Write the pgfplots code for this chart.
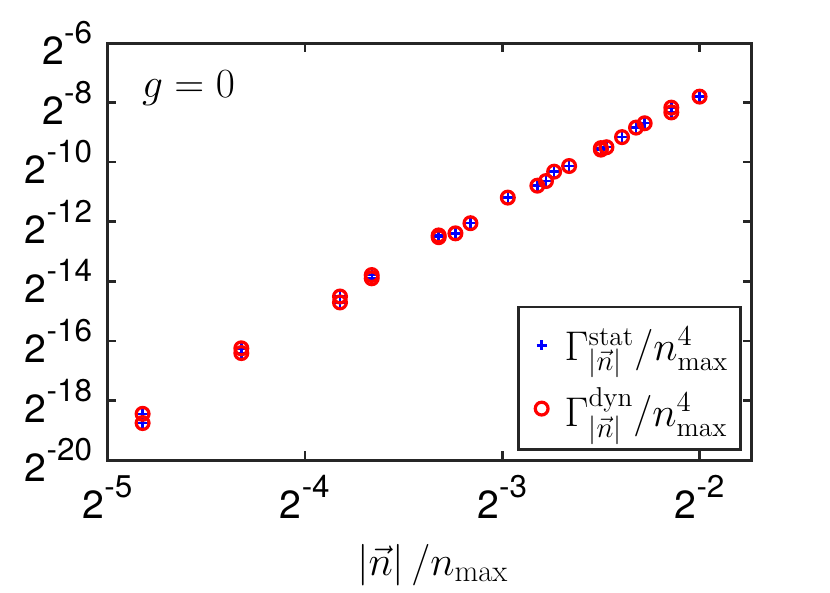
\documentclass[border=0pt]{standalone}
\usepackage{fontspec}
\setsansfont{TeX Gyre Heros}
\usepackage{pgfplots}
\pgfplotsset{compat=1.18}
\usepackage{pgfplotstable}
\definecolor{axc}{RGB}{38,38,38}
\newcommand\tl[1]{{\fontsize{19.6}{20}\selectfont\sffamily 2\raisebox{10.5pt}{\fontsize{15.7}{16}\selectfont #1}}}

\pgfplotstableread{
x y
0.035355 2.792e-6
0.035355 2.253e-6
0.05 1.2831e-5
0.05 1.1484e-5
0.070711 4.285e-5
0.070711 3.732e-5
0.079057 7.059e-5
0.079057 6.542e-5
0.1 1.7747e-4
0.1 1.7026e-4
0.106066 1.8628e-4
0.111803 2.3582e-4
0.127475 4.280e-4
0.141421 5.647e-4
0.145774 6.291e-4
0.15 7.823e-4
0.158114 8.924e-4
0.176777 1.3525e-3
0.176777 1.3067e-3
0.180278 1.3811e-3
0.190394 1.748e-3
0.2 2.1823e-3
0.206155 2.413e-3
0.226385 3.472e-3
0.226385 3.1075e-3
0.25 4.487e-3
}\stattab

\pgfplotstableread{
x y
0.035355 2.792e-6
0.035355 2.253e-6
0.05 1.2831e-5
0.05 1.1484e-5
0.070711 4.285e-5
0.070711 3.732e-5
0.079057 7.059e-5
0.079057 6.542e-5
0.1 1.7747e-4
0.1 1.7026e-4
0.106066 1.8628e-4
0.111803 2.3582e-4
0.127475 4.280e-4
0.141421 5.647e-4
0.145774 6.291e-4
0.15 7.823e-4
0.158114 8.924e-4
0.176777 1.3525e-3
0.176777 1.3067e-3
0.180278 1.3811e-3
0.190394 1.748e-3
0.2 2.1823e-3
0.206155 2.413e-3
0.226385 3.472e-3
0.226385 3.1075e-3
0.25 4.487e-3
}\dyntab

\begin{document}
\begin{tikzpicture}
\begin{axis}[
  scale only axis, width=322pt, height=208.5pt,
  xmode=log, ymode=log, log basis x=2, log basis y=2,
  xmin=0.03125, xmax=0.3, ymin=9.5367431640625e-7, ymax=0.015625,
  xtick={0.03125,0.0625,0.125,0.25},
  xticklabels={\tl{-5},\tl{-4},\tl{-3},\tl{-2}},
  ytick={9.5367431640625e-7,3.814697265625e-6,1.52587890625e-5,6.103515625e-5,2.44140625e-4,9.765625e-4,3.90625e-3,1.5625e-2},
  yticklabels={\tl{-20},\tl{-18},\tl{-16},\tl{-14},\tl{-12},\tl{-10},\tl{-8},\tl{-6}},
  minor xtick={}, minor ytick={},
  tick align=inside, major tick length=4.5pt,
  axis line style={axc, line width=1.5pt},
  tick style={axc, line width=1.3pt},
  xticklabel style={inner sep=0pt, yshift=-7.5pt},
  yticklabel style={inner sep=0pt, xshift=-7.5pt},
  xlabel={$\left|\vec{n}\right|/n_{\max}$},
  xlabel style={font=\fontsize{22}{25}\selectfont, at={(rel axis cs:0.505,0)}, anchor=base, yshift=-57.5pt},
  legend image code/.code={\path[draw=none,fill=none] (-7.5pt,-1pt) rectangle (9.5pt,1pt); \draw[#1] plot coordinates {(0pt,0pt)};},
  legend style={at={(rel axis cs:0.9845,0.0223)}, anchor=south east, draw=axc, line width=1.2pt,
    font=\fontsize{19.5}{23}\selectfont, inner xsep=4pt, inner ysep=8pt, row sep=8pt},
  legend cell align=left,
]
\addplot[only marks, mark=+, blue, mark size=2.5pt, mark options={line width=1.2pt}] table[x=x,y=y] {\stattab};
\addlegendentry{$\Gamma^{\mathrm{stat}}_{|\vec{n}|}/n^4_{\max}$}
\addplot[only marks, mark=o, red, mark size=3.2pt, mark options={line width=1.6pt}] table[x=x,y=y] {\dyntab};
\addlegendentry{$\Gamma^{\mathrm{dyn}}_{|\vec{n}|}/n^4_{\max}$}
\node[anchor=base west, font=\fontsize{21}{24}\selectfont, inner sep=0pt, yshift=-27pt] at (rel axis cs:0.053,1) {$g=0$};
\end{axis}
\pgfresetboundingbox
\path (current axis.south west) ++(-53.75pt,-66.5pt) rectangle ++(415pt,296.5pt);
\end{tikzpicture}
\end{document}
